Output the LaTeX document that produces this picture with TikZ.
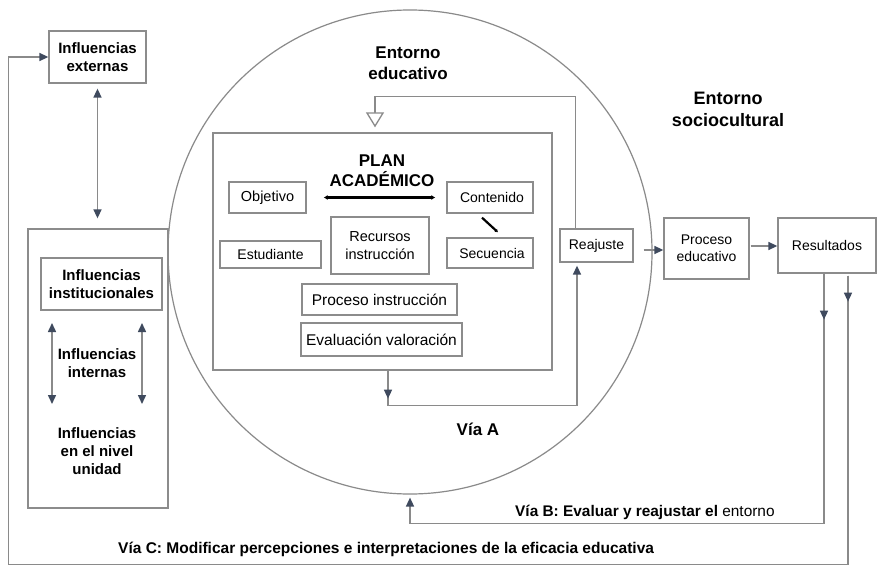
\documentclass[tikz,border=0pt]{standalone}
\usepackage{fontspec}
\setmainfont{Liberation Sans}
\usetikzlibrary{arrows.meta,calc}
\definecolor{ln}{HTML}{8A8A8A}
\definecolor{bx}{HTML}{8C8C8C}
\definecolor{ah}{HTML}{3F4A5E}
\tikzset{
  box/.style={draw=bx, line width=1.3pt, rectangle, inner sep=0pt, align=center, font=\fontsize{14}{17}\selectfont},
  bbox/.style={box, font=\bfseries\fontsize{15}{18}\selectfont},
  btxt/.style={font=\bfseries\fontsize{15}{18}\selectfont, align=center, inner sep=0pt},
  conn/.style={draw=ln, line width=1.5pt},
  tip/.style={-{Triangle[length=9pt,width=8pt,color=ah]}},
  dtip/.style={{Triangle[length=9pt,width=8pt,color=ah]}-{Triangle[length=9pt,width=8pt,color=ah]}},
  thick2/.style={draw=black, line width=2.2pt},
}
\begin{document}
\begin{tikzpicture}[x=1pt,y=-1pt]
\useasboundingbox[fill=white] (0,0) rectangle (877,567);
% big circle
\node[circle, draw=ln, line width=1.2pt, minimum size=484pt, inner sep=0pt] (circ) at (410,252) {};
% left side
\node[bbox, minimum width=97pt, minimum height=52pt] (ext) at (97.5,57) {Influencias\\externas};
\node[box, minimum width=140pt, minimum height=279pt] (lbox) at (98,368.5) {};
\node[bbox, minimum width=121pt, minimum height=52pt] (inst) at (101.5,284) {Influencias\\institucionales};
\node[btxt] (intern) at (97,363) {Influencias\\internas};
\node[btxt] (unidad) at (97,451) {Influencias\\en el nivel\\unidad};
% titles
\node[btxt, font=\bfseries\fontsize{17}{21}\selectfont] (educ) at (408,63) {Entorno\\educativo};
\node[btxt, font=\bfseries\fontsize{18}{22}\selectfont] (socio) at (728,109) {Entorno\\sociocultural};
% plan academico
\node[box, minimum width=339pt, minimum height=237pt] (plan) at (382.5,251.5) {};
\node[btxt, font=\bfseries\fontsize{17}{20}\selectfont] (plantxt) at (382,171) {PLAN\\ACADÉMICO};
\node[box, minimum width=77pt, minimum height=31pt, font=\fontsize{14.5}{17}\selectfont] (objetivo) at (267.5,197.5) {Objetivo};
\node[box, minimum width=86pt, minimum height=31pt] (contenido) at (490,197.5) {\hspace{4pt}Contenido};
\node[box, minimum width=86pt, minimum height=30pt] (secuencia) at (490,253) {\hspace{4pt}Secuencia};
\node[box, minimum width=98pt, minimum height=57pt, font=\fontsize{14.5}{18}\selectfont] (recursos) at (380,245.5) {Recursos\\instrucción};
\node[box, minimum width=101pt, minimum height=27pt] (estudiante) at (270.5,254.5) {Estudiante};
\node[box, minimum width=155pt, minimum height=31pt, font=\fontsize{15.5}{18}\selectfont] (procinst) at (379.5,299.5) {Proceso instrucción};
\node[box, minimum width=161pt, minimum height=33pt, font=\fontsize{15.5}{18}\selectfont] (evalua) at (381.5,339.5) {Evaluación valoración};
% right side
\node[box, minimum width=73pt, minimum height=33pt] (reajuste) at (596.5,245.5) {Reajuste};
\node[box, minimum width=85pt, minimum height=61pt] (procedu) at (706.5,248.5) {Proceso\\educativo};
\node[box, minimum width=98pt, minimum height=55pt] (result) at (827,245.5) {Resultados};
% labels
\node[btxt, font=\bfseries\fontsize{17}{20}\selectfont] (viaA) at (478,429) {Vía A};
\node[btxt, anchor=west, font=\bfseries\fontsize{15.4}{18}\selectfont] (viaB) at (515,512) {Vía B: Evaluar y reajustar el \mdseries entorno};
\node[btxt, anchor=west, font=\bfseries\fontsize{15.5}{18}\selectfont] (viaC) at (118,549) {Vía C: Modificar percepciones e interpretaciones de la eficacia educativa};
% connectors on the left
\draw[conn, dtip, shorten <=5pt, shorten >=10pt] (ext.south) -- (ext.south |- lbox.north);
\coordinate (i1t) at (52,323);
\coordinate (i1b) at (52,404);
\coordinate (i2t) at (142,323);
\coordinate (i2b) at (142,404);
\draw[conn, dtip] (i1t) -- (i1b);
\draw[conn, dtip] (i2t) -- (i2b);
% inside plan
\draw[thick2, {Latex[length=4pt,width=5pt]}-{Latex[length=4pt,width=5pt]}, shorten <=17pt, shorten >=11pt] (objetivo.east) -- (contenido.west);
\draw[thick2, -{Latex[length=3pt,width=4pt]}] ($(contenido.south)+(-8,4)$) -- ($(secuencia.north)+(8,-5)$);
% top feedback to plan
\coordinate (tfA) at ($(reajuste.north west)+(16,0)$);
\coordinate (tfB) at ($(plan.north)+(-7.5,-36)$);
\coordinate (tfC) at ($(plan.north)+(-7.5,-5)$);
\draw[conn, -{Triangle[open,length=15pt,width=18pt,fill=white,color=ln,line width=1.3pt]}] (tfA) |- (tfB) -- (tfC);
% Via A
\coordinate (vaA) at ($(plan.south)+(5.5,0)$);
\coordinate (vaB) at ($(plan.south)+(5.5,35)$);
\coordinate (vaC) at ($(reajuste.south)+(-19.5,3)$);
\draw[conn, tip] (vaA) -- (vaB) -| (vaC);
\draw[conn, tip] (vaA) -- ($(vaA)+(0,28)$);
% main flow
\draw[conn, tip] ($(reajuste.east)+(10,4.5)$) -- ($(procedu.west)+(0,1.5)$);
\draw[conn, tip] ($(procedu.east)+(1,-2.5)$) -- ($(result.west)+(0,0.5)$);
% Via B
\coordinate (vbA) at ($(result.south)+(-3,0)$);
\coordinate (vbB) at ($(result.south)+(-3,250)$);
\coordinate (vbC) at ($(circ.south)+(0,3)$);
\draw[conn, tip] (vbA) -- (vbB) -| (vbC);
\draw[conn, tip] (vbA) -- ($(vbA)+(0,46)$);
% Via C
\coordinate (vcA) at ($(result.south)+(21,2)$);
\coordinate (vcB) at ($(result.south)+(21,291)$);
\coordinate (vcC) at ($(ext.west)+(-40,0)$);
\draw[conn, tip] (vcA) -- (vcB) -| (vcC) -- (ext.west);
\draw[conn, tip] (vcA) -- ($(vcA)+(0,26)$);
\end{tikzpicture}
\end{document}
